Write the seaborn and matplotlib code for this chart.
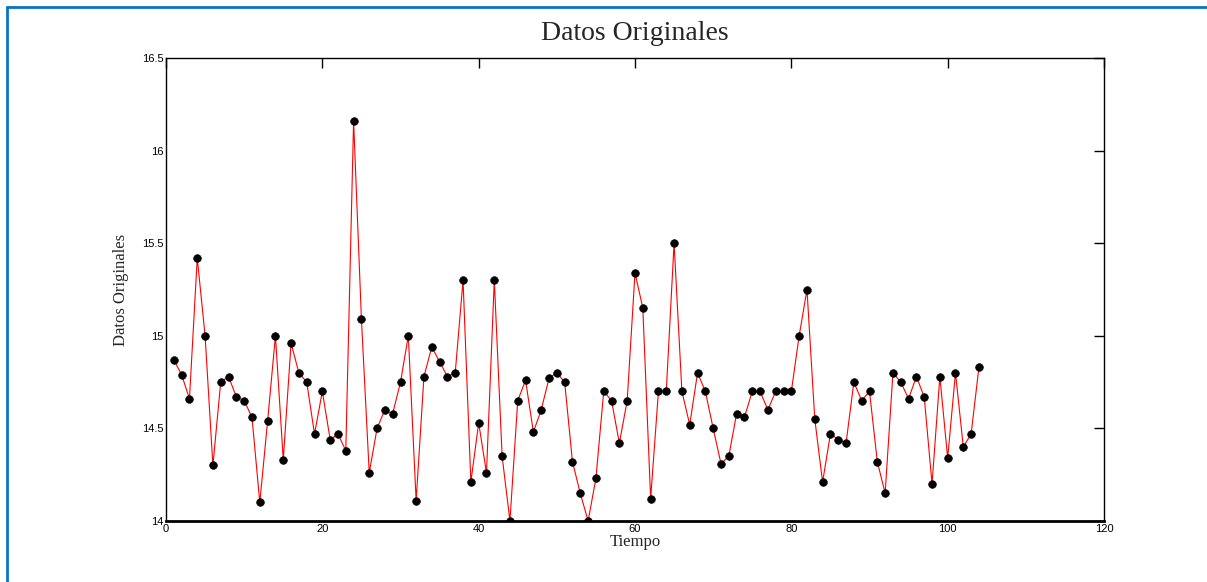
import numpy as np
import pandas as pd
import matplotlib
matplotlib.use("Agg")
import matplotlib.pyplot as plt
from matplotlib.lines import Line2D
import seaborn as sns

tiempo = list(range(1, 105))
datos = [
    14.87, 14.79, 14.66, 15.42, 15.00, 14.30, 14.75, 14.78, 14.67, 14.65,
    14.56, 14.10, 14.54, 15.00, 14.33, 14.96, 14.80, 14.75, 14.47, 14.70,
    14.44, 14.47, 14.38, 16.16, 15.09, 14.26, 14.50, 14.60, 14.58, 14.75,
    15.00, 14.11, 14.78, 14.94, 14.86, 14.78, 14.80, 15.30, 14.21, 14.53,
    14.26, 15.30, 14.35, 14.00, 14.65, 14.76, 14.48, 14.60, 14.77, 14.80,
    14.75, 14.32, 14.15, 14.00, 14.23, 14.70, 14.65, 14.42, 14.65, 15.34,
    15.15, 14.12, 14.70, 14.70, 15.50, 14.70, 14.52, 14.80, 14.70, 14.50,
    14.31, 14.35, 14.58, 14.56, 14.70, 14.70, 14.60, 14.70, 14.70, 14.70,
    15.00, 15.25, 14.55, 14.21, 14.47, 14.44, 14.42, 14.75, 14.65, 14.70,
    14.32, 14.15, 14.80, 14.75, 14.66, 14.78, 14.67, 14.20, 14.78, 14.34,
    14.80, 14.40, 14.47, 14.83,
]
xticks = [0, 20, 40, 60, 80, 100, 120]
yticks = [14, 14.5, 15, 15.5, 16, 16.5]
ytick_labels = ["14", "14.5", "15", "15.5", "16", "16.5"]
titulo = "Datos Originales"
xlabel = "Tiempo"
ylabel = "Datos Originales"

df = pd.DataFrame({"Tiempo": tiempo, "Datos": datos})

sns.set_style("white")
plt.rcParams["font.family"] = ["Liberation Sans", "DejaVu Sans"]

fig = plt.figure(figsize=(12.07, 5.82), dpi=100)
ax = fig.add_axes([166 / 1207, 61 / 582, (1104 - 166) / 1207, (521 - 58) / 582])

sns.lineplot(data=df, x="Tiempo", y="Datos", ax=ax, color="red", linewidth=0.8,
             marker="o", markersize=5.5, markerfacecolor="black",
             markeredgecolor="black", markeredgewidth=0.5)

ax.set_xlim(0, 120)
ax.set_ylim(14, 16.5)
ax.set_xticks(xticks)
ax.set_xticklabels([str(t) for t in xticks])
ax.set_yticks(yticks)
ax.set_yticklabels(ytick_labels)
ax.tick_params(direction="in", length=7, width=1, top=True, right=True,
               labelsize=8, pad=2, colors="black")
for s in ax.spines.values():
    s.set_visible(True)
    s.set_color("black")
    s.set_linewidth(1)
ax.spines["bottom"].set_linewidth(2)

serif = ["Liberation Serif", "DejaVu Serif"]
ax.set_title(titulo, fontsize=20, family=serif, pad=13)
ax.set_xlabel(xlabel, fontsize=12, family=serif, labelpad=0)
ax.set_ylabel(ylabel, fontsize=12, family=serif, labelpad=9)

# blue frame of the window
blue = "#0A72C4"
fig.add_artist(Line2D([7 / 1207, 7 / 1207], [0, 1 - 7 / 582], color=blue, linewidth=2))
fig.add_artist(Line2D([7 / 1207, 1], [1 - 7 / 582, 1 - 7 / 582], color=blue, linewidth=2))

fig.savefig("out.png", dpi=100)
